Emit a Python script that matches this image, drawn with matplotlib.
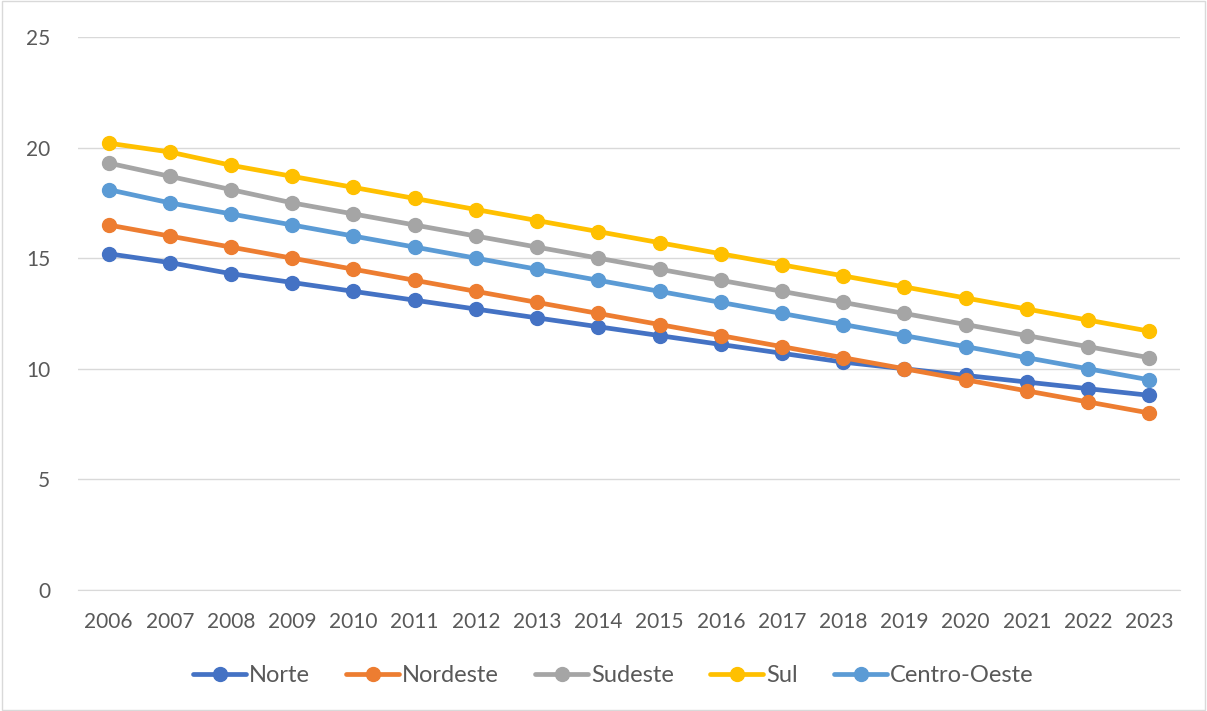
import matplotlib
matplotlib.use("Agg")
import matplotlib.pyplot as plt
from matplotlib.patches import Rectangle

years = [str(y) for y in range(2006, 2024)]
norte = [15.2, 14.8, 14.3, 13.9, 13.5, 13.1, 12.7, 12.3, 11.9, 11.5, 11.1, 10.7, 10.3, 10.0, 9.7, 9.4, 9.1, 8.8]
nordeste = [16.5, 16.0, 15.5, 15.0, 14.5, 14.0, 13.5, 13.0, 12.5, 12.0, 11.5, 11.0, 10.5, 10.0, 9.5, 9.0, 8.5, 8.0]
sudeste = [19.3, 18.7, 18.1, 17.5, 17.0, 16.5, 16.0, 15.5, 15.0, 14.5, 14.0, 13.5, 13.0, 12.5, 12.0, 11.5, 11.0, 10.5]
sul = [20.2, 19.8, 19.2, 18.7, 18.2, 17.7, 17.2, 16.7, 16.2, 15.7, 15.2, 14.7, 14.2, 13.7, 13.2, 12.7, 12.2, 11.7]
centro_oeste = [18.1, 17.5, 17.0, 16.5, 16.0, 15.5, 15.0, 14.5, 14.0, 13.5, 13.0, 12.5, 12.0, 11.5, 11.0, 10.5, 10.0, 9.5]

series = [
    ("Norte", norte, "#4472C4"),
    ("Nordeste", nordeste, "#ED7D31"),
    ("Sudeste", sudeste, "#A5A5A5"),
    ("Sul", sul, "#FFC000"),
    ("Centro-Oeste", centro_oeste, "#5B9BD5"),
]

plt.rcParams['font.family'] = ['Lato', 'DejaVu Sans']

fig = plt.figure(figsize=(12.07, 7.11), dpi=100)
fig.patches.append(Rectangle((0.002, 0.002), 0.996, 0.996, transform=fig.transFigure,
                             fill=False, edgecolor="#D9D9D9", linewidth=1))
ax = fig.add_axes([0.0646, 0.1702, 0.9130, 0.7778])

x = list(range(len(years)))
for name, vals, col in series:
    ax.plot(x, vals, color=col, linewidth=3.4, marker="o", markersize=10, label=name,
            solid_capstyle="round")

ax.set_xlim(-0.5, len(years) - 0.5)
ax.set_ylim(0, 25)
ax.set_yticks([0, 5, 10, 15, 20, 25])
ax.set_xticks(x)
ax.set_xticklabels(years)
ax.grid(axis="y", color="#D9D9D9", linewidth=1)
ax.set_axisbelow(True)
for s in ["top", "right", "left"]:
    ax.spines[s].set_visible(False)
ax.spines["bottom"].set_color("#D9D9D9")
ax.tick_params(axis="both", length=0, labelsize=15, colors="#595959")
ax.tick_params(axis="y", pad=20)
ax.tick_params(axis="x", pad=16)

leg = fig.legend(loc="center", bbox_to_anchor=(0.508, 0.05), ncol=5, frameon=False,
                 fontsize=17, handlelength=2.25, handletextpad=0.1, columnspacing=1.55,
                 labelcolor="#595959")

fig.savefig("out.png", dpi=100)
